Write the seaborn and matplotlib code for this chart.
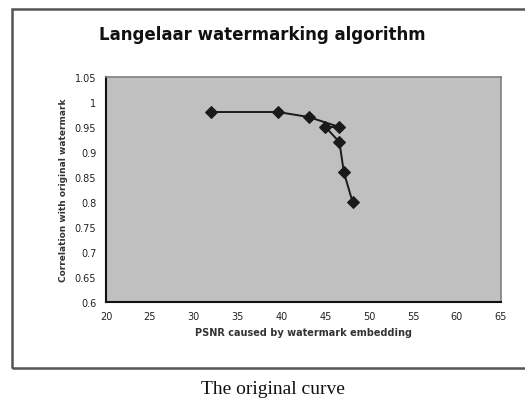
import numpy as np
import pandas as pd
import seaborn as sns
import matplotlib as mpl
from matplotlib import pyplot as plt
from matplotlib.patches import Rectangle

# PSNR vs correlation, in the order the points are joined
psnr = [32.0, 39.6, 43.1, 46.6, 45.0, 46.6, 47.1, 48.1]
correlation = [0.98, 0.98, 0.97, 0.95, 0.95, 0.92, 0.86, 0.80]
x_ticks = [20, 25, 30, 35, 40, 45, 50, 55, 60, 65]
y_ticks = [0.6, 0.65, 0.7, 0.75, 0.8, 0.85, 0.9, 0.95, 1.0, 1.05]
y_tick_labels = ["0.6", "0.65", "0.7", "0.75", "0.8", "0.85", "0.9", "0.95", "1", "1.05"]

curve_df = pd.DataFrame({"psnr": psnr, "correlation": correlation})

sns.set_style("white")
mpl.rcParams["font.family"] = ["DejaVu Sans"]

fig = plt.figure(figsize=(5.25, 4.02), dpi=100)
ax = fig.add_axes([0.202, 0.246, 0.752, 0.560])
ax.set_facecolor("#c0c0c0")

# estimator=None so repeated x values are drawn as separate points
sns.lineplot(data=curve_df, x="psnr", y="correlation", sort=False, estimator=None, ax=ax,
             color="#1a1a1a", linewidth=1.4, marker="D", markersize=6,
             markeredgecolor="#1a1a1a", markerfacecolor="#1a1a1a")

ax.set_xlim(20, 65)
ax.set_ylim(0.6, 1.05)
ax.set_xticks(x_ticks)
ax.set_xticklabels([str(t) for t in x_ticks])
ax.set_yticks(y_ticks)
ax.set_yticklabels(y_tick_labels)
ax.tick_params(axis="x", direction="inout", length=5, width=1, labelsize=7, pad=4, colors="#222222")
ax.tick_params(axis="y", direction="out", length=4, width=1, labelsize=7, pad=3, colors="#222222")
ax.set_xlabel("PSNR caused by watermark embedding", fontsize=7, fontweight="bold",
              color="#333333", labelpad=4)
ax.set_ylabel("Correlation with original watermark", fontsize=6.5, fontweight="bold",
              color="#333333", labelpad=5)

for side in ["left", "bottom"]:
    ax.spines[side].set_color("#111111")
    ax.spines[side].set_linewidth(1.5)
for side in ["top", "right"]:
    ax.spines[side].set_color("#808080")
    ax.spines[side].set_linewidth(1.2)

# chart frame and captions
fig.patches.append(Rectangle((0.023, 0.082), 1.2, 0.893, transform=fig.transFigure,
                             fill=False, edgecolor="#555555", linewidth=1.8))
fig.text(0.50, 0.912, "Langelaar watermarking algorithm", ha="center", va="center",
         fontsize=12, fontweight="semibold", color="#111111")
fig.text(0.52, 0.03, "The original curve", ha="center", va="center",
         fontsize=14, family=["Liberation Serif"], color="#111111")

plt.savefig("out.png", dpi=100)
